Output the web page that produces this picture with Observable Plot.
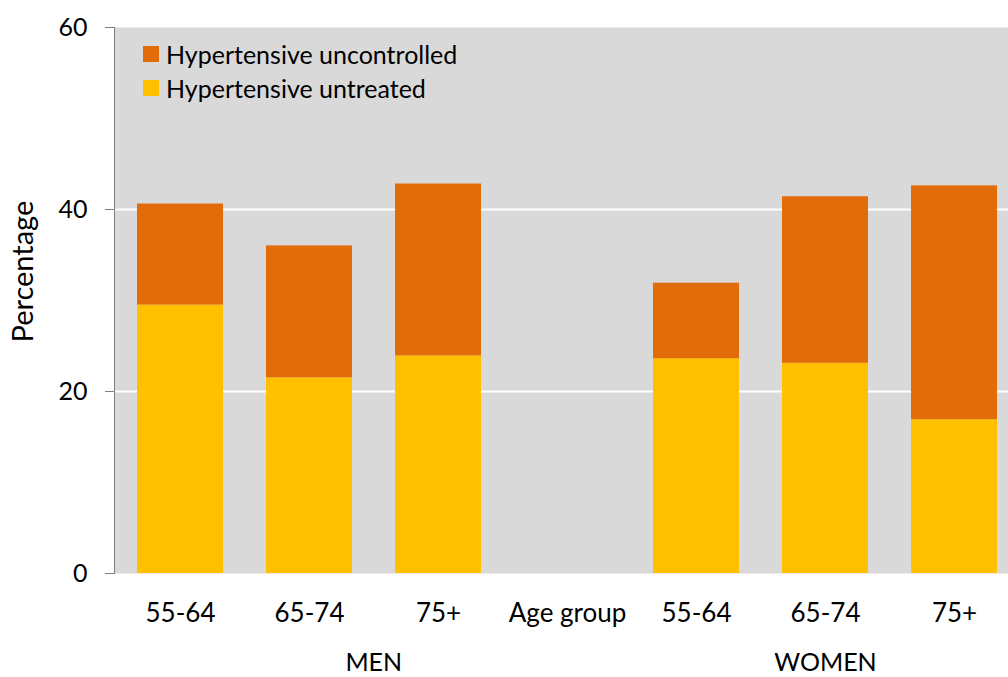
<!DOCTYPE html>
<html><head><meta charset="utf-8">
<script src="https://cdn.jsdelivr.net/npm/d3@7"></script>
<script src="https://cdn.jsdelivr.net/npm/@observablehq/plot@0.6"></script>
<style>
body{margin:0;background:#fff;overflow:hidden;width:1008px;height:677px;}
#wrap{position:relative;width:1008px;height:677px;overflow:hidden;font-family:Lato,sans-serif;}
#legend{position:absolute;left:143px;top:37px;font-size:25px;color:#000;z-index:2;}
.row{display:flex;align-items:center;height:34px;}
.sw{width:16px;height:16px;margin-right:7px;}
</style></head><body><div id="wrap"><div id="legend"></div></div>
<script>
const categories = ["M55","M65","M75","gap","W55","W65","W75"];
const tickLabels = ["55-64","65-74","75+","Age group","55-64","65-74","75+"];
const untreated = [29.5,21.5,23.9,null,23.6,23.1,16.9];
const uncontrolled = [11.1,14.5,18.9,null,8.3,18.3,25.7];
const seriesNames = ["Hypertensive untreated","Hypertensive uncontrolled"];
const seriesColors = ["#FFC000","#E36C0A"];
const legendOrder = ["Hypertensive uncontrolled","Hypertensive untreated"];
const groupLabels = ["MEN","WOMEN"];
const groupAnchors = ["M75","W65"];
const yTicks = [0,20,40,60];

const rows = [];
categories.forEach((c,i)=>{
  if (untreated[i] == null) return;
  rows.push({cat:c, series:seriesNames[0], value:untreated[i]});
  rows.push({cat:c, series:seriesNames[1], value:uncontrolled[i]});
});

const W = 1020, ML = 114;
const step = (W - ML) / categories.length;

const plot = Plot.plot({
  width: W, height: 677,
  marginLeft: ML, marginRight: 0, marginTop: 27, marginBottom: 104,
  style: {fontFamily: "Lato, sans-serif", fontSize: "24px", color: "#000", background: "transparent"},
  x: {domain: categories, paddingInner: 0.33, paddingOuter: 0.165, axis: null},
  y: {domain: [0,60], axis: null},
  color: {domain: seriesNames, range: seriesColors},
  marks: [
    Plot.frame({fill: "#d9d9d9", stroke: null}),
    Plot.gridY(yTicks.filter(t=>t>0 && t<60), {stroke: "#fff", strokeOpacity: 1, strokeWidth: 2}),
    Plot.barY(rows, Plot.stackY({x: "cat", y: "value", fill: "series", order: seriesNames})),
    Plot.axisY({ticks: yTicks, tickSize: 9, tickPadding: 18, stroke: "#7f7f7f", fill: "#000", fontSize: 25, label: null}),
    Plot.frame({anchor: "left", stroke: "#7f7f7f"}),
    Plot.axisX({tickSize: 0, tickPadding: 30, tickFormat: d=>tickLabels[categories.indexOf(d)], fontSize: 26, fill: "#000", label: null}),
    Plot.text(["Percentage"], {frameAnchor: "left", rotate: -90, dx: -91, dy: 42, fontSize: 29, fill: "#000"}),
    Plot.text(groupLabels.map((g,i)=>({g, x: groupAnchors[i]})), {x: "x", text: "g", frameAnchor: "bottom", lineAnchor: "middle", dy: 89, fontSize: 25, fill: "#000"})
  ]
});
// MEN spans the first four bands, so its centre sits half a band step left of the third band
d3.select(plot).selectAll("text").filter(function(){return this.textContent==="MEN";}).each(function(){
  const t = d3.select(this).attr("transform") || "";
  d3.select(this).attr("transform", `translate(${-step/2},0) ` + t);
});
plot.style.maxWidth = "none";
plot.style.position = "absolute"; plot.style.left = "0"; plot.style.top = "0";
document.getElementById("wrap").appendChild(plot);

const lg = document.getElementById("legend");
legendOrder.forEach(name=>{
  const r = document.createElement("div"); r.className = "row";
  const s = document.createElement("div"); s.className = "sw"; s.style.background = seriesColors[seriesNames.indexOf(name)];
  const t = document.createElement("span"); t.textContent = name;
  r.appendChild(s); r.appendChild(t); lg.appendChild(r);
});
</script></body></html>
